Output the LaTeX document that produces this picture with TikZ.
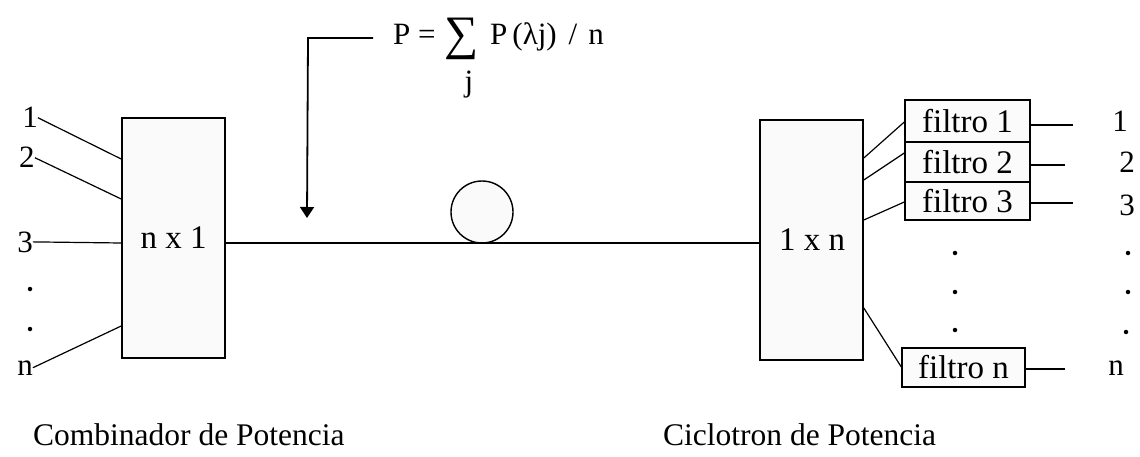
\documentclass[tikz,border=0pt]{standalone}
\usepackage{fontspec}
\setmainfont{Liberation Serif}
\usetikzlibrary{arrows.meta}
\begin{document}
\begin{tikzpicture}[x=1pt,y=-1pt,
  box/.style={draw, line width=1.6pt, fill=gray!4, inner sep=0pt},
  filt/.style={draw, line width=1.4pt, fill=gray!3, inner sep=0pt, minimum width=125pt, font=\fontsize{33}{33}\selectfont},
  lbl/.style={inner sep=0pt, anchor=base, font=\fontsize{31}{31}\selectfont},
  boxtxt/.style={inner sep=0pt, anchor=base, font=\fontsize{33}{33}\selectfont},
  frm/.style={inner sep=0pt, font=\fontsize{31}{31}\selectfont},
  wire/.style={line width=1.2pt},
  dotm/.style={circle, fill=black, inner sep=0pt, minimum size=4.5pt},
  capt/.style={inner sep=0pt, anchor=base west, font=\fontsize{31.5}{31.5}\selectfont}]
\fill[white] (0,0) rectangle (1140,457);
\useasboundingbox (0,0) rectangle (1140,457);

% formula
\node[frm, anchor=base west] (fP) at (393,45) {P =};
\node[frm, font=\fontsize{48}{48}\selectfont] (fS) at (462,39) {∑};
\node[frm, anchor=base] (fJ) at (469,92) {j};
\node[frm, anchor=base west] (fR) at (490,45) {P\hspace{5pt}(λj)\hspace{12pt}/\hspace{11pt}n};
\coordinate (a0) at (373,38);
\coordinate (a1) at (308,38);
\coordinate (a2) at (307,218);
\draw[line width=1.8pt, -{Triangle[length=11pt,width=14pt]}] (a0) -- (a1) -- (a2);

% left combiner
\node[box, minimum width=103pt, minimum height=240pt] (bL) at (173.5,238) {};
\node[boxtxt] (tL) at (173.5,248) {n x 1};
\node[lbl] (l1) at (30,128) {1};
\node[lbl] (l2) at (27,168) {2};
\node[lbl] (l3) at (25,252) {3};
\node[lbl] (ln) at (25,375) {n};
\node[dotm] (ld1) at (30,289) {};
\node[dotm] (ld2) at (30,329) {};
\draw[wire] (l1.east) -- (bL.west |- 0,159);
\draw[wire] (l2.east) -- (bL.west |- 0,199);
\draw[wire] (l3.east) -- (bL.west |- 0,243);
\draw[wire] (ln.east) -- (bL.west |- 0,326);

% fiber
\node[draw, circle, line width=1.4pt, fill=gray!4, minimum size=62pt, inner sep=0pt] (fib) at (482,212) {};

% right splitter
\node[box, minimum width=103pt, minimum height=240pt] (bR) at (811.5,240) {};
\node[boxtxt] (tR) at (812,250) {1 x n};
\draw[wire] (bL.east |- 0,243) -- (bR.west |- 0,243);

% filters
\node[filt, minimum height=42pt] (f1) at (967.5,121) {filtro 1};
\node[filt, minimum height=40pt] (f2) at (967.5,162) {filtro 2};
\node[filt, minimum height=38pt] (f3) at (967.5,201) {filtro 3};
\node[filt, minimum width=123pt, minimum height=39pt] (fn) at (963.5,367.5) {filtro n};
\draw[wire] (bR.east |- 0,158) -- (f1.west |- 0,122);
\draw[wire] (bR.east |- 0,180) -- (f2.west |- 0,153);
\draw[wire] (bR.east |- 0,220) -- (f3.west |- 0,202);
\draw[wire] (bR.east |- 0,308) -- (fn.west |- 0,367);

\coordinate (o1) at (1073,125);
\coordinate (o2) at (1065,165);
\coordinate (o3) at (1073,203);
\coordinate (on) at (1065,369);
\draw[wire] (f1.east |- o1) -- (o1);
\draw[wire] (f2.east |- o2) -- (o2);
\draw[wire] (f3.east |- o3) -- (o3);
\draw[wire] (fn.east |- on) -- (on);

\node[lbl] (r1) at (1120,132) {1};
\node[lbl] (r2) at (1127,173) {2};
\node[lbl] (r3) at (1127,215) {3};
\node[lbl] (rn) at (1116,375) {n};

\node[dotm] (md1) at (955,253) {};
\node[dotm] (md2) at (955,292) {};
\node[dotm] (md3) at (955,330) {};
\node[dotm] (rd1) at (1128,253) {};
\node[dotm] (rd2) at (1128,292) {};
\node[dotm] (rd3) at (1126,332) {};

% captions
\node[capt] (c1) at (33,445) {Combinador de Potencia};
\node[capt] (c2) at (663,445) {Ciclotron de Potencia};
\end{tikzpicture}
\end{document}
